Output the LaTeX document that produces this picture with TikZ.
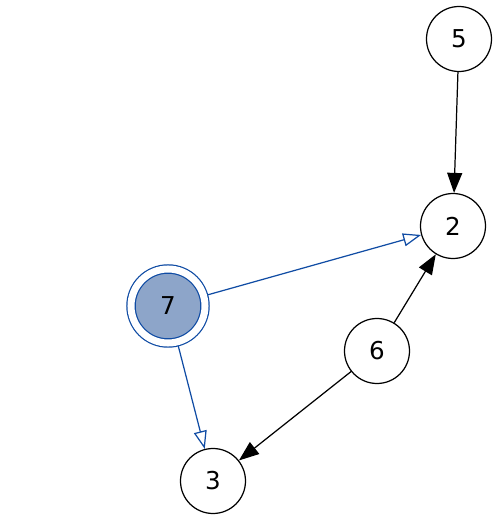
\documentclass[tikz,border=0pt]{standalone}
\usepackage{fontspec}
\setmainfont{DejaVu Sans}
\usepackage{tikz}
\usetikzlibrary{arrows.meta}
\definecolor{grblue}{RGB}{16,76,164}
\definecolor{grfill}{RGB}{141,165,201}

\begin{document}
\begin{tikzpicture}[
      vertex/.style={circle, draw=black, line width=0.7pt, minimum size=1.3cm, inner sep=0pt, font=\fontsize{14}{16}\selectfont},
      marked/.style={vertex, draw=grblue, fill=grfill, double=white, double distance=4pt, minimum size=1.48cm, outer sep=2.5pt},
      arr/.style={-{Triangle[length=4mm, width=3mm]}, line width=0.7pt, color=black},
      inh/.style={-{Triangle[open, length=3.6mm, width=2.6mm]}, line width=0.7pt, color=grblue}
    ]
      \useasboundingbox (0,0) rectangle (10,10.44);

      % Vertices
      \node[vertex] (n5) at (9.18, 9.66) {5};
      \node[vertex] (n2) at (9.06, 5.92) {2};
      \node[marked] (n7) at (3.36, 4.32) {7};
      \node[vertex] (n6) at (7.54, 3.42) {6};
      \node[vertex] (n3) at (4.26, 0.82) {3};

      % Edges
      \draw[arr] (n5) -- (n2);
      \draw[arr] (n6) -- (n2);
      \draw[arr] (n6) -- (n3);
      \draw[inh] (n7) -- (n2);
      \draw[inh] (n7) -- (n3);
    \end{tikzpicture}
\end{document}
